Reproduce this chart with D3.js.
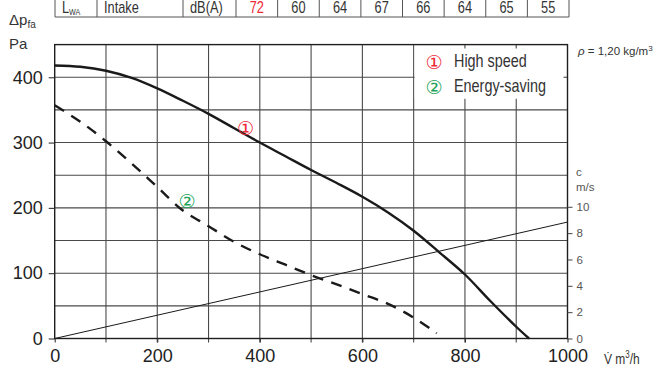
<!DOCTYPE html>
<html><head><meta charset="utf-8">
<script src="https://cdn.jsdelivr.net/npm/d3@7"></script>
<style>
html,body{margin:0;padding:0;background:#fff;}
svg{display:block;}
</style></head>
<body>
<svg id="chart" width="661" height="374"></svg>
<script>
// ---- data ----
const flowTicks = [0, 200, 400, 600, 800, 1000];
const pressureTicks = [0, 100, 200, 300, 400];
const velocityTicks = [0, 2, 4, 6, 8, 10];
const gridFlow = [100, 200, 300, 400, 500, 600, 700, 800, 900];
const gridPressure = [50, 100, 150, 200, 250, 300, 350, 400];

const highSpeedFlow =     [0,   50,  100, 150, 200, 250, 300, 350, 400, 450, 500, 550, 600, 650, 700, 750, 800, 850, 900, 925];
const highSpeedPressure = [418, 416, 410, 399, 383, 364, 344, 322, 300, 279, 258, 238, 217, 193, 165, 132, 98,  57,  18,  0];

const energyFlow =        [0,   50,  100, 150, 200, 250, 300, 350, 400, 450, 500, 550, 600, 650, 700, 745];
const energyPressure =    [357, 332, 302, 268, 232, 196, 172, 148, 129, 113, 97,  83,  68,  53,  32,  8];

const velocityFlow = [0, 1000];
const velocityValues = [0, 8.84];

const tableHead = ["L", "Intake", "dB(A)"];
const tableValues = ["72", "60", "64", "67", "66", "64", "65", "55"];

const legendLabels = ["High speed", "Energy-saving"];
const legendMarks = ["\u2460", "\u2461"];
const seriesColors = ["#ee2a3a", "#1ea35a"];

// ---- layout ----
const svg = d3.select("#chart");
const x = d3.scaleLinear().domain([0, 1000]).range([54.7, 567.5]);
const y = d3.scaleLinear().domain([0, 450]).range([338.5, 44.6]);
const yc = d3.scaleLinear().domain([0, 10]).range([338.5, 206.8]);

const sans = "'Liberation Sans',Arial,Helvetica,sans-serif";
const squeeze = 0.8;
// condensed text helper
function narrowText(parent, px, py, size, txt, opts = {}) {
  const g = parent.append("g").attr("transform", `translate(${px},${py}) scale(${squeeze},1)`);
  const t = g.append("text").attr("x", 0).attr("y", 0).attr("font-family", sans)
    .attr("font-size", size).attr("fill", opts.fill || "#333")
    .attr("text-anchor", opts.anchor || "start");
  if (txt !== null) t.text(txt);
  return t;
}

// ---- grid ----
const gridColor = "#4a4a4a";
const grid = svg.append("g").attr("stroke", gridColor).attr("stroke-width", 1.1);
grid.selectAll("line.v").data(gridFlow).join("line").attr("class", "v")
  .attr("x1", d => x(d)).attr("x2", d => x(d))
  .attr("y1", y(450)).attr("y2", y(0) + 4);
grid.selectAll("line.h").data(gridPressure).join("line").attr("class", "h")
  .attr("x1", x(0)).attr("x2", x(1000))
  .attr("y1", d => y(d)).attr("y2", d => y(d));

// legend box masking grid
const lx0 = x(700) + 1, lx1 = x(1000), ly0 = y(450), ly1 = y(367);
svg.append("rect").attr("x", lx0).attr("y", ly0).attr("width", lx1 - lx0).attr("height", ly1 - ly0).attr("fill", "#fff");
const stubs = svg.append("g").attr("stroke", gridColor).attr("stroke-width", 1.1);
stubs.selectAll("line.t").data([800, 900]).join("line").attr("class", "t")
  .attr("x1", d => x(d)).attr("x2", d => x(d)).attr("y1", y(450)).attr("y2", y(450) + 4);
stubs.append("line").attr("x1", x(1000) - 4).attr("x2", x(1000)).attr("y1", y(400)).attr("y2", y(400));

// ---- axes frame ----
const frame = svg.append("g").attr("stroke", "#1e1e1e").attr("stroke-width", 1.4).attr("fill", "none");
frame.append("rect").attr("x", x(0)).attr("y", y(450)).attr("width", x(1000) - x(0)).attr("height", y(0) - y(450));

// left axis
const leftAxis = d3.axisLeft(y).tickValues(pressureTicks).tickSize(6).tickPadding(6);
const gl = svg.append("g").attr("transform", `translate(${x(0)},0)`).call(leftAxis);
gl.select(".domain").remove();
gl.selectAll(".tick line").attr("stroke", "#333").attr("stroke-width", 1.1);
gl.selectAll(".tick text").attr("font-family", sans).attr("font-size", 18).attr("fill", "#222");

// bottom axis
const bottomAxis = d3.axisBottom(x).tickValues(flowTicks).tickFormat(d3.format("d")).tickSize(4).tickPadding(7);
const gb = svg.append("g").attr("transform", `translate(0,${y(0)})`).call(bottomAxis);
gb.select(".domain").remove();
gb.selectAll(".tick line").attr("stroke", "#333").attr("stroke-width", 1.1);
gb.selectAll(".tick text").attr("font-family", sans).attr("font-size", 18).attr("fill", "#222");

// right axis (velocity)
const rightAxis = d3.axisRight(yc).tickValues(velocityTicks).tickSize(5).tickPadding(4);
const gr = svg.append("g").attr("transform", `translate(${x(1000)},0)`).call(rightAxis);
gr.select(".domain").remove();
gr.selectAll(".tick line").attr("stroke", "#444").attr("stroke-width", 1);
gr.selectAll(".tick text").attr("font-family", sans).attr("font-size", 11.5).attr("fill", "#555");

svg.append("text").attr("x", 576).attr("y", 176).attr("font-family", sans).attr("font-size", 11.5).attr("fill", "#555").text("c");
svg.append("text").attr("x", 576).attr("y", 191).attr("font-family", sans).attr("font-size", 11.5).attr("fill", "#555").text("m/s");

// ---- curves ----
const line = d3.line().x(d => x(d[0])).y(d => y(d[1])).curve(d3.curveCatmullRom.alpha(0.5));
svg.append("path").datum(highSpeedFlow.map((f, i) => [f, highSpeedPressure[i]]))
  .attr("d", line).attr("fill", "none").attr("stroke", "#1a1a1a").attr("stroke-width", 2.4);
svg.append("path").datum(energyFlow.map((f, i) => [f, energyPressure[i]]))
  .attr("d", line).attr("fill", "none").attr("stroke", "#1a1a1a").attr("stroke-width", 2.4)
  .attr("stroke-dasharray", "11,8.5");
const vline = d3.line().x(d => x(d[0])).y(d => yc(d[1]));
svg.append("path").datum(velocityFlow.map((f, i) => [f, velocityValues[i]]))
  .attr("d", vline).attr("fill", "none").attr("stroke", "#1a1a1a").attr("stroke-width", 1);

// curve markers
const markFont = "'DejaVu Sans',sans-serif";
svg.append("text").attr("x", x(372)).attr("y", y(322)).attr("text-anchor", "middle").attr("dominant-baseline", "central")
  .attr("font-family", markFont).attr("font-size", 19).attr("fill", seriesColors[0]).text(legendMarks[0]);
svg.append("text").attr("x", x(258)).attr("y", y(211)).attr("text-anchor", "middle").attr("dominant-baseline", "central")
  .attr("font-family", markFont).attr("font-size", 19).attr("fill", seriesColors[1]).text(legendMarks[1]);

// legend
legendLabels.forEach((lab, i) => {
  const by = 67 + i * 25;
  svg.append("text").attr("x", 434).attr("y", by - 5.5).attr("text-anchor", "middle").attr("dominant-baseline", "central")
    .attr("font-family", markFont).attr("font-size", 19).attr("fill", seriesColors[i]).text(legendMarks[i]);
  narrowText(svg, 454, by, 18, lab);
});

// density note
const rho = svg.append("text").attr("x", 578).attr("y", 55).attr("font-family", sans).attr("font-size", 11.5).attr("fill", "#333");
rho.append("tspan").attr("font-style", "italic").text("\u03c1");
rho.append("tspan").text(" = 1,20 kg/m");
rho.append("tspan").attr("font-size", 8).attr("dy", -4).text("3");

// axis titles
const dp = svg.append("text").attr("x", 9).attr("y", 25).attr("font-family", sans).attr("font-size", 15).attr("fill", "#333");
dp.append("tspan").text("\u0394p");
dp.append("tspan").attr("font-size", 10).attr("dy", 3).text("fa");
svg.append("text").attr("x", 9).attr("y", 49).attr("font-family", sans).attr("font-size", 15).attr("fill", "#333").text("Pa");

const vt = narrowText(svg, 604, 364, 15, null);
vt.append("tspan").text("V\u0307 m");
vt.append("tspan").attr("font-size", 10).attr("dy", -6).text("3");
vt.append("tspan").attr("dy", 6).text("/h");

// ---- top table ----
const tbl = svg.append("g");
const band = d3.scaleBand().domain(d3.range(tableValues.length)).range([236, 569]);
const colEdges = [55, 97, 183, 236].concat(tableValues.map((v, i) => band(i) + band.bandwidth()));
tbl.selectAll("line.c").data(colEdges).join("line").attr("class", "c")
  .attr("x1", d => d).attr("x2", d => d).attr("y1", 0).attr("y2", 17)
  .attr("stroke", "#555").attr("stroke-width", 1);
tbl.append("line").attr("x1", 55).attr("x2", 569).attr("y1", 17).attr("y2", 17).attr("stroke", "#555").attr("stroke-width", 1);
const lw = narrowText(tbl, 62, 13, 16, null);
lw.append("tspan").text(tableHead[0]);
lw.append("tspan").attr("font-size", 9).attr("dy", 2).text("WA");
narrowText(tbl, 104, 13, 16, tableHead[1]);
narrowText(tbl, 190, 13, 16, tableHead[2]);
tableValues.forEach((v, i) => {
  narrowText(tbl, band(i) + band.bandwidth() / 2, 13, 16, v,
    { anchor: "middle", fill: i === 0 ? seriesColors[0] : "#333" });
});
</script>
</body></html>
